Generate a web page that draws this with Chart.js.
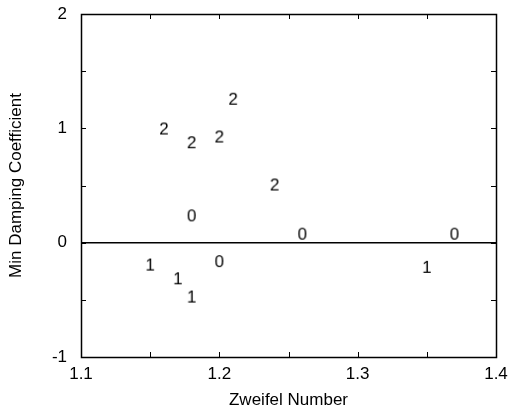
<!DOCTYPE html>
<html>
<head>
<meta charset="utf-8">
<script src="https://cdn.jsdelivr.net/npm/chart.js@4.4.0/dist/chart.umd.min.js"></script>
<style>
  html, body { margin: 0; padding: 0; background: #fff; }
</style>
</head>
<body>
<canvas id="chart" width="520" height="414"></canvas>
<script>
// Min damping vs Zweifel number, each point marked by its mode number
const zweifel = [1.21, 1.16, 1.18, 1.20, 1.24, 1.18, 1.26, 1.37, 1.15, 1.17, 1.18, 1.20, 1.35];
const damping = [1.25, 0.99, 0.87, 0.92, 0.50, 0.23, 0.07, 0.07, -0.20, -0.32, -0.48, -0.17, -0.22];
const modes = ['2', '2', '2', '2', '2', '0', '0', '0', '1', '1', '1', '0', '1'];
const zeroLineX = [1.1, 1.4];
const zeroLineY = [0, 0];

const FONT = '"Liberation Sans", Arial, Helvetica, sans-serif';
Chart.defaults.font.family = FONT;
Chart.defaults.font.size = 17;
Chart.defaults.color = '#000';

// little canvases with the mode digit, used as point style
const makeMarker = (txt) => {
  const c = document.createElement('canvas');
  c.width = 16;
  c.height = 20;
  const g = c.getContext('2d');
  g.font = '17px ' + FONT;
  g.fillStyle = '#000';
  g.textAlign = 'center';
  g.textBaseline = 'middle';
  g.fillText(txt, 8, 10.5);
  return c;
};
const markers = {};
['0', '1', '2'].forEach(m => { markers[m] = makeMarker(m); });

// gnuplot style: frame on all sides, ticks pointing inwards and mirrored
const frameTicks = {
  id: 'frameTicks',
  afterDraw(chart) {
    const { ctx, chartArea: a, scales: { x, y } } = chart;
    const l = Math.round(a.left), r = Math.round(a.right);
    const t = Math.round(a.top), b = Math.round(a.bottom);
    ctx.save();
    ctx.strokeStyle = '#000';
    ctx.lineWidth = 1;
    ctx.beginPath();
    x.ticks.forEach(tk => {
      const px = Math.round(x.getPixelForValue(tk.value)) + 0.5;
      ctx.moveTo(px, b); ctx.lineTo(px, b - 5);
      ctx.moveTo(px, t); ctx.lineTo(px, t + 5);
    });
    y.ticks.forEach(tk => {
      const py = Math.round(y.getPixelForValue(tk.value)) + 0.5;
      ctx.moveTo(l, py); ctx.lineTo(l + 5, py);
      ctx.moveTo(r, py); ctx.lineTo(r - 5, py);
    });
    ctx.stroke();
    ctx.lineWidth = 1.5;
    ctx.strokeStyle = '#000';
    ctx.strokeRect(l + 0.5, t + 0.5, r - l, b - t);
    ctx.restore();
  }
};

const points = zweifel.map((z, i) => ({ x: z, y: damping[i] }));
const zeroLine = zeroLineX.map((z, i) => ({ x: z, y: zeroLineY[i] }));

new Chart(document.getElementById('chart').getContext('2d'), {
  type: 'scatter',
  data: {
    datasets: [{
      data: points,
      pointStyle: (c) => markers[modes[c.dataIndex]],
      pointRadius: 3,
      pointHoverRadius: 3
    }, {
      type: 'line',
      data: zeroLine,
      borderColor: '#000',
      borderWidth: 1.5,
      pointRadius: 0,
      fill: false
    }]
  },
  options: {
    responsive: false,
    animation: false,
    events: [],
    layout: { padding: { top: 14, right: 24, left: 0, bottom: 0 } },
    plugins: { legend: { display: false }, tooltip: { enabled: false } },
    scales: {
      x: {
        type: 'linear',
        min: 1.1,
        max: 1.4,
        grid: { display: false, drawTicks: false },
        border: { display: false },
        ticks: {
          stepSize: 0.05,
          padding: 7,
          maxRotation: 0,
          autoSkip: false,
          callback: (v) => Math.round(v * 100) % 10 === 0 ? v.toFixed(1) : ''
        },
        title: { display: true, text: 'Zweifel Number', font: { size: 17 }, padding: { top: 0, bottom: 3 } },
        afterFit: (s) => { s.height = 57; s.paddingLeft = 0; s.paddingRight = 0; }
      },
      y: {
        min: -1,
        max: 2,
        grid: { display: false, drawTicks: false },
        border: { display: false },
        ticks: {
          stepSize: 0.5,
          padding: 14,
          autoSkip: false,
          callback: (v) => Math.round(v * 10) % 10 === 0 ? String(Math.round(v)) : ''
        },
        title: { display: true, text: 'Min Damping Coefficient', font: { size: 17 }, padding: { top: 6, bottom: 0 } },
        afterFit: (s) => { s.width = 81; s.paddingTop = 0; s.paddingBottom = 0; }
      }
    }
  },
  plugins: [frameTicks]
});
</script>
</body>
</html>
